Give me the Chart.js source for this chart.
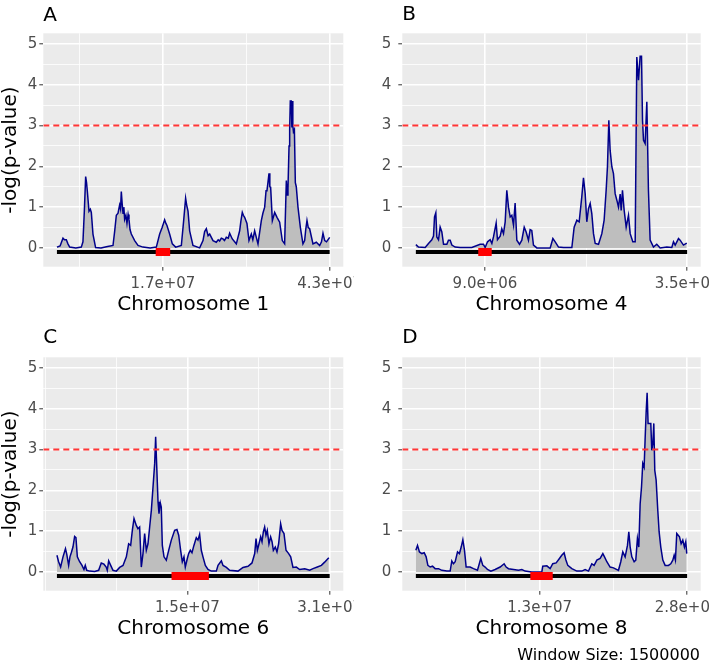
<!DOCTYPE html>
<html>
<head>
<meta charset="utf-8">
<title>Sliding window scan</title>
<script src="https://cdn.jsdelivr.net/npm/chart.js@4.4.1/dist/chart.umd.min.js"></script>
<style>
  body { margin: 0; background: #ffffff; }
  #figure { position: relative; width: 709px; height: 663px; overflow: hidden; font-family: "DejaVu Sans", sans-serif; }
  .cell { position: absolute; }
  .cell canvas { display: block; }
  #caption { position: absolute; right: 9px; top: 647px; font-size: 16px; line-height: 16px; color: #000; white-space: nowrap; }
</style>
</head>
<body>
<div id="figure">
  <div class="cell" style="left:0;top:0"><canvas id="chrA" width="354" height="324"></canvas></div>
  <div class="cell" style="left:354px;top:0"><canvas id="chrB" width="355" height="324"></canvas></div>
  <div class="cell" style="left:0;top:324px"><canvas id="chrC" width="354" height="339"></canvas></div>
  <div class="cell" style="left:354px;top:324px"><canvas id="chrD" width="355" height="339"></canvas></div>
  <div id="caption"></div>
</div>
<script>
// Sliding-window scan, -log(p-value) along four chromosomes
// positions are in Mb, tick labels are written in bp

const chr1Pos = [
    0, 0.5, 0.96, 1.2, 1.49, 1.75, 2.02, 3.0, 3.87, 4.13,
    4.35, 4.56, 4.7, 4.82, 5.09, 5.3, 5.46, 5.72, 6.14, 7.0,
    7.84, 8.9, 9.16, 9.43, 9.7, 9.95, 10.1, 10.22, 10.35, 10.49,
    10.62, 10.75, 10.95, 11.12, 11.3, 11.44, 11.6, 11.81, 12.34, 12.87,
    13.66, 14.8, 15.78, 16.31, 16.7, 17.1, 17.3, 17.47, 17.89, 18.32,
    18.85, 19.75, 20.12, 20.43, 20.6, 20.81, 21.07, 21.6, 22.66, 23.19,
    23.45, 23.72, 24.0, 24.25, 24.78, 25.3, 25.6, 25.83, 26.1, 26.36,
    26.6, 26.89, 27.2, 27.42, 27.84, 28.48, 29.01, 29.2, 29.43, 29.6,
    29.8, 30.17, 30.49, 30.86, 31.1, 31.39, 31.92, 32.45, 32.7, 32.98,
    33.2, 33.35, 33.5, 33.67, 33.8, 33.93, 34.2, 34.57, 34.94, 35.36,
    35.78, 36.15, 36.42, 36.55, 36.68, 36.85, 36.95, 37.05, 37.2, 37.3,
    37.37, 37.45, 37.55, 37.7, 37.85, 38.0, 38.27, 38.64, 39.06, 39.33,
    39.5, 39.7, 39.9, 40.12, 40.65, 41.18, 41.71, 42.0, 42.24, 42.51,
    42.8, 43.3
];
const chr1LogP = [
    0.02, 0.05, 0.24, 0.2, 0.2, 0.1, 0.02, 0.0, 0.02, 0.15,
    0.9, 1.75, 1.6, 1.4, 0.9, 0.95, 0.87, 0.34, 0.01, 0.0,
    0.03, 0.06, 0.4, 0.8, 0.85, 1.05, 0.95, 1.38, 1.1, 0.85,
    1.0, 0.7, 0.8, 0.6, 0.82, 0.7, 0.45, 0.34, 0.18, 0.06,
    0.02, 0.0, 0.02, 0.34, 0.5, 0.69, 0.6, 0.55, 0.34, 0.1,
    0.02, 0.06, 0.67, 1.22, 1.05, 0.9, 0.42, 0.06, 0.0, 0.18,
    0.4, 0.47, 0.3, 0.34, 0.18, 0.14, 0.2, 0.17, 0.24, 0.22,
    0.18, 0.26, 0.24, 0.36, 0.22, 0.1, 0.42, 0.65, 0.87, 0.8,
    0.75, 0.6, 0.18, 0.34, 0.2, 0.42, 0.1, 0.67, 0.85, 1.0,
    1.4, 1.41, 1.6, 1.83, 1.5, 1.49, 0.67, 0.87, 0.75, 0.63,
    0.18, 0.1, 1.65, 1.3, 1.45, 2.5, 2.9, 3.6, 3.6, 2.95,
    3.6, 3.0, 2.85, 2.9, 1.6, 1.5, 1.0, 0.51, 0.1, 0.18,
    0.45, 0.67, 0.5, 0.47, 0.1, 0.14, 0.06, 0.15, 0.36, 0.18,
    0.15, 0.26
];

const chr4Pos = [
    0, 0.34, 1.21, 1.64, 2.07, 2.29, 2.42, 2.59, 2.72, 2.94,
    3.15, 3.37, 3.59, 4.02, 4.23, 4.45, 4.67, 5.10, 5.75, 7.26,
    8.34, 8.78, 8.99, 9.30, 9.64, 9.86, 10.07, 10.42, 10.59, 10.94,
    11.15, 11.37, 11.59, 11.80, 12.02, 12.24, 12.45, 12.67, 12.88, 13.10,
    13.45, 13.75, 14.06, 14.31, 14.61, 14.83, 15.04, 15.26, 15.70, 17.43,
    17.78, 18.08, 18.51, 19.16, 20.24, 20.54, 20.89, 21.19, 21.53, 21.75,
    21.97, 22.18, 22.40, 22.62, 22.83, 23.05, 23.27, 23.70, 24.13, 24.43,
    24.69, 24.86, 25.04, 25.21, 25.43, 25.64, 25.86, 26.08, 26.29, 26.51,
    26.64, 26.81, 27.03, 27.29, 27.59, 27.81, 28.15, 28.46, 28.67, 28.89,
    29.10, 29.28, 29.41, 29.54, 29.75, 29.97, 30.18, 30.40, 30.83, 31.26,
    31.70, 32.56, 33.21, 33.43, 33.65, 34.08, 34.29, 34.72, 35.15
];
const chr4LogP = [
    0.08, 0.02, 0.01, 0.11, 0.2, 0.29, 0.76, 0.86, 0.27, 0.2,
    0.51, 0.39, 0.09, 0.09, 0.19, 0.19, 0.07, 0.02, 0.01, 0.01,
    0.09, 0.09, 0.01, 0.15, 0.2, 0.11, 0.27, 0.61, 0.2, 0.29,
    0.47, 0.35, 0.64, 1.41, 1.0, 0.76, 0.8, 0.56, 1.1, 0.19,
    0.09, 0.19, 0.51, 0.39, 0.19, 0.45, 0.43, 0.07, 0.0, 0.0,
    0.23, 0.15, 0.02, 0.01, 0.01, 0.51, 0.68, 0.64, 1.25, 1.72,
    1.33, 0.64, 0.96, 1.09, 0.84, 0.35, 0.11, 0.09, 0.35, 0.68,
    1.41, 1.99, 3.13, 2.39, 1.99, 1.82, 1.33, 1.17, 1.0, 1.32,
    0.92, 1.41, 0.92, 0.51, 0.8, 0.35, 0.15, 0.15, 4.68, 4.11,
    4.7, 4.7, 3.13, 2.64, 2.56, 3.58, 1.41, 0.19, 0.02, 0.09,
    0.0, 0.02, 0.01, 0.15, 0.07, 0.23, 0.19, 0.07, 0.12
];

const chr6Pos = [
    0, 0.19, 0.42, 0.69, 0.97, 1.12, 1.33, 1.48, 1.63, 1.82,
    2.01, 2.16, 2.32, 2.58, 2.85, 3.07, 3.22, 3.38, 3.72, 4.29,
    4.74, 5.04, 5.34, 5.60, 5.72, 5.88, 6.11, 6.37, 6.75, 7.13,
    7.51, 7.89, 8.15, 8.38, 8.57, 8.76, 9.02, 9.21, 9.40, 9.59,
    9.78, 9.97, 10.16, 10.35, 10.54, 10.73, 10.92, 11.11, 11.22, 11.33,
    11.49, 11.60, 11.75, 11.86, 11.98, 12.17, 12.43, 12.70, 13.00, 13.38,
    13.64, 13.84, 14.06, 14.25, 14.44, 14.59, 14.82, 14.97, 15.16, 15.35,
    15.57, 15.84, 16.03, 16.22, 16.41, 16.60, 16.87, 17.17, 17.55, 18.12,
    18.31, 18.69, 18.88, 19.26, 19.63, 20.58, 21.15, 21.72, 22.17, 22.48,
    22.63, 22.78, 22.97, 23.16, 23.31, 23.46, 23.61, 23.76, 23.91, 24.10,
    24.29, 24.45, 24.60, 24.82, 25.01, 25.20, 25.43, 25.58, 25.81, 26.04,
    26.34, 26.57, 26.83, 27.21, 27.59, 28.16, 28.73, 29.11, 29.60, 30.06,
    30.43, 30.9
];
const chr6LogP = [
    0.41, 0.25, 0.12, 0.37, 0.57, 0.43, 0.16, 0.37, 0.47, 0.61,
    0.87, 0.84, 0.37, 0.25, 0.16, 0.06, 0.16, 0.04, 0.02, 0.01,
    0.04, 0.22, 0.19, 0.12, 0.04, 0.27, 0.16, 0.04, 0.02, 0.11,
    0.16, 0.37, 0.69, 0.65, 1.02, 1.31, 1.14, 1.06, 1.1, 0.12,
    0.45, 0.94, 0.53, 0.69, 1.1, 1.51, 2.08, 2.66, 3.31, 2.66,
    1.72, 1.43, 1.69, 1.59, 0.65, 0.37, 0.29, 0.53, 0.78, 1.02,
    1.04, 0.9, 0.53, 0.25, 0.37, 0.12, 0.33, 0.45, 0.53, 0.47,
    0.65, 0.84, 0.78, 0.92, 0.53, 0.37, 0.16, 0.06, 0.02, 0.02,
    0.16, 0.27, 0.16, 0.11, 0.04, 0.02, 0.11, 0.14, 0.22, 0.45,
    0.82, 0.53, 0.69, 0.86, 0.74, 0.98, 1.1, 0.9, 1.02, 0.69,
    0.86, 0.74, 0.53, 0.61, 0.49, 0.69, 1.18, 1.02, 0.94, 0.53,
    0.45, 0.37, 0.11, 0.12, 0.06, 0.08, 0.04, 0.08, 0.12, 0.16,
    0.24, 0.35
];

const chr8Pos = [
    0, 0.17, 0.37, 0.62, 0.86, 1.06, 1.24, 1.48, 1.72, 1.99,
    2.34, 2.68, 3.20, 3.54, 3.71, 3.88, 4.06, 4.30, 4.50, 4.68,
    4.85, 5.02, 5.19, 5.60, 5.95, 6.36, 6.70, 6.91, 7.15, 7.39,
    7.74, 8.18, 8.70, 9.11, 9.32, 9.56, 10.08, 10.59, 10.94, 11.28,
    11.97, 13.00, 13.10, 13.52, 13.86, 14.13, 14.48, 14.82, 15.06, 15.30,
    15.48, 15.68, 16.10, 16.61, 17.13, 17.47, 17.82, 18.16, 18.40, 18.68,
    19.02, 19.30, 19.47, 19.71, 20.05, 20.40, 20.91, 21.15, 21.36, 21.60,
    21.84, 21.98, 22.12, 22.29, 22.53, 22.70, 22.87, 23.01, 23.15, 23.29,
    23.42, 23.56, 23.66, 23.77, 23.87, 23.97, 24.25, 24.35, 24.46, 24.56,
    24.66, 24.80, 24.97, 25.11, 25.28, 25.49, 25.73, 26.07, 26.31, 26.52,
    26.66, 26.79, 26.93, 27.21, 27.38, 27.55, 27.72, 27.86, 27.96
];
const chr8LogP = [
    0.53, 0.65, 0.49, 0.45, 0.47, 0.37, 0.16, 0.12, 0.14, 0.08,
    0.08, 0.04, 0.02, 0.02, 0.27, 0.2, 0.25, 0.49, 0.45, 0.61,
    0.79, 0.53, 0.12, 0.12, 0.08, 0.04, 0.33, 0.16, 0.12, 0.06,
    0.02, 0.06, 0.12, 0.2, 0.12, 0.08, 0.06, 0.04, 0.06, 0.02,
    0.0, 0.0, 0.14, 0.15, 0.08, 0.2, 0.22, 0.33, 0.41, 0.47,
    0.3, 0.16, 0.08, 0.02, 0.02, 0.06, 0.02, 0.2, 0.16, 0.29,
    0.33, 0.45, 0.37, 0.25, 0.12, 0.1, 0.04, 0.25, 0.49, 0.37,
    0.65, 0.98, 0.61, 0.37, 0.25, 0.29, 0.82, 0.61, 1.67, 2.08,
    2.66, 2.57, 3.23, 3.92, 4.39, 3.64, 3.64, 2.98, 3.15, 3.64,
    2.49, 2.25, 1.51, 0.98, 0.61, 0.29, 0.16, 0.16, 0.2, 0.29,
    0.41, 0.29, 0.94, 0.86, 0.69, 0.78, 0.61, 0.74, 0.45
];

// per-panel values: A, B, C, D
const panelTags = ['A', 'B', 'C', 'D'];
const chromNames = ['Chromosome 1', 'Chromosome 4', 'Chromosome 6', 'Chromosome 8'];
const chromLengths = [43.3, 35.2, 31.0, 28.0];
const centromereStart = [15.64, 8.08, 13.0, 11.8];
const centromereEnd = [18.02, 9.86, 17.28, 14.14];
const xBreaks = [[16.83, 43.3], [8.97, 35.2], [14.83, 31.0], [12.78, 28.0]];
const xBreakLabels = [
    ['1.7e+07', '4.3e+07'],
    ['9.0e+06', '3.5e+07'],
    ['1.5e+07', '3.1e+07'],
    ['1.3e+07', '2.8e+07']
];
const yBreaks = [0, 1, 2, 3, 4, 5];
const yLimits = [-0.46, 5.26];
const threshold = 3;
const windowSize = 1500000;

const FONT = '"DejaVu Sans", sans-serif';

// Layout of each panel inside its canvas (pixels)
const panelLayout = [
    { canvas: 'chrA', yTitle: true,  yWidth: 43.3, yTickPad: 2, padRight: 10.7, padBottom: 0,  tagY: 20.7 },
    { canvas: 'chrB', yTitle: false, yWidth: 48.3, yTickPad: 7, padRight: 8.3,  padBottom: 0,  tagY: 20.2 },
    { canvas: 'chrC', yTitle: true,  yWidth: 43.3, yTickPad: 2, padRight: 10.7, padBottom: 15, tagY: 18.5 },
    { canvas: 'chrD', yTitle: false, yWidth: 48.3, yTickPad: 7, padRight: 8.3,  padBottom: 15, tagY: 18.8 }
];

// Grey panel background like ggplot's theme_grey
const panelBackground = {
    id: 'panelBackground',
    beforeDraw: function(chart) {
        const { ctx, chartArea } = chart;
        ctx.save();
        ctx.fillStyle = '#EBEBEB';
        ctx.fillRect(chartArea.left, chartArea.top, chartArea.width, chartArea.height);
        ctx.restore();
    }
};

// Panel letter in the top left corner
const panelTag = {
    id: 'panelTag',
    afterDraw: function(chart, args, opts) {
        const ctx = chart.ctx;
        ctx.save();
        ctx.font = '20px ' + FONT;
        ctx.fillStyle = '#000000';
        ctx.textAlign = 'left';
        ctx.textBaseline = 'alphabetic';
        ctx.fillText(opts.text, chart.chartArea.left, opts.y);
        ctx.restore();
    }
};

// ggplot style minor breaks: midpoints of the (extended) major breaks
function minorBreaks(b, lo, hi) {
    const step = b[1] - b[0];
    const ext = b.slice();
    if (lo < ext[0]) ext.unshift(ext[0] - step);
    if (hi > ext[ext.length - 1]) ext.push(ext[ext.length - 1] + step);
    const out = [];
    for (let k = 0; k < ext.length - 1; k++) {
        out.push(ext[k], (ext[k] + ext[k + 1]) / 2);
    }
    out.push(ext[ext.length - 1]);
    return out.filter(v => v >= lo && v <= hi && !b.includes(v));
}

function buildPanel(i, pos, logp) {
    const lay = panelLayout[i];
    const len = chromLengths[i];
    const xMin = -0.05 * len;
    const xMax = 1.05 * len;

    const xMajor = xBreaks[i];
    const xTicks = xMajor.concat(minorBreaks(xMajor, xMin, xMax)).sort((a, b) => a - b);
    const yTicks = yBreaks.concat(minorBreaks(yBreaks, yLimits[0], yLimits[1])).sort((a, b) => a - b);

    const gridWidth = (majors) => (ctx) => (ctx.tick && majors.includes(ctx.tick.value)) ? 1.6 : 0.8;
    const tickColor = (majors) => (ctx) => (ctx.tick && majors.includes(ctx.tick.value)) ? '#333333' : 'rgba(0,0,0,0)';

    const config = {
        type: 'line',
        data: {
            datasets: [
                {   // significance threshold
                    data: [{ x: xMin, y: threshold }, { x: xMax, y: threshold }],
                    borderColor: '#FF3535',
                    borderWidth: 1.8,
                    borderDash: [6, 4],
                    fill: false,
                    order: 0
                },
                {   // centromere, upper edge
                    data: [{ x: centromereStart[i], y: 0 }, { x: centromereEnd[i], y: 0 }],
                    borderColor: 'rgba(0,0,0,0)',
                    borderWidth: 0,
                    backgroundColor: '#FF0000',
                    fill: '+1',
                    order: 1
                },
                {   // centromere, lower edge
                    data: [{ x: centromereStart[i], y: -0.2 }, { x: centromereEnd[i], y: -0.2 }],
                    borderColor: 'rgba(0,0,0,0)',
                    borderWidth: 0,
                    fill: false,
                    order: 1
                },
                {   // chromosome
                    data: [{ x: 0, y: -0.1 }, { x: len, y: -0.1 }],
                    borderColor: '#000000',
                    borderWidth: 4,
                    borderCapStyle: 'butt',
                    fill: false,
                    order: 2
                },
                {   // -log(p) along the chromosome
                    data: pos.map((p, k) => ({ x: p, y: logp[k] })),
                    borderColor: '#00008B',
                    borderWidth: 1.5,
                    backgroundColor: '#BEBEBE',
                    fill: 'origin',
                    order: 3
                }
            ]
        },
        options: {
            responsive: false,
            animation: false,
            devicePixelRatio: 1,
            events: [],
            layout: { padding: { left: 0, top: 33.3, right: lay.padRight, bottom: lay.padBottom } },
            elements: {
                point: { radius: 0, hoverRadius: 0 },
                line: { tension: 0 }
            },
            plugins: {
                legend: { display: false },
                tooltip: { enabled: false },
                panelTag: { text: panelTags[i], y: lay.tagY }
            },
            scales: {
                x: {
                    type: 'linear',
                    min: xMin,
                    max: xMax,
                    afterBuildTicks: function(axis) {
                        axis.ticks = xTicks.map(v => ({ value: v }));
                    },
                    afterFit: function(axis) {
                        axis.height = 57.3;
                        axis.paddingLeft = 0;
                        axis.paddingRight = 0;
                    },
                    border: { display: false },
                    grid: {
                        color: '#FFFFFF',
                        lineWidth: gridWidth(xMajor),
                        drawTicks: true,
                        tickLength: 4,
                        tickWidth: 1,
                        tickColor: tickColor(xMajor)
                    },
                    ticks: {
                        autoSkip: false,
                        maxRotation: 0,
                        padding: 4.5,
                        color: '#4D4D4D',
                        font: { family: FONT, size: 15 },
                        callback: function(value) {
                            const k = xMajor.indexOf(value);
                            return k >= 0 ? xBreakLabels[i][k] : '';
                        }
                    },
                    title: {
                        display: true,
                        text: chromNames[i],
                        color: '#000000',
                        font: { family: FONT, size: 20, lineHeight: 1.2 },
                        padding: { top: 0, bottom: 7 }
                    }
                },
                y: {
                    type: 'linear',
                    min: yLimits[0],
                    max: yLimits[1],
                    afterBuildTicks: function(axis) {
                        axis.ticks = yTicks.map(v => ({ value: v }));
                    },
                    afterFit: function(axis) {
                        axis.width = lay.yWidth;
                        axis.paddingTop = 0;
                        axis.paddingBottom = 0;
                    },
                    border: { display: false },
                    grid: {
                        color: '#FFFFFF',
                        lineWidth: gridWidth(yBreaks),
                        drawTicks: true,
                        tickLength: 4,
                        tickWidth: 1,
                        tickColor: tickColor(yBreaks)
                    },
                    ticks: {
                        autoSkip: false,
                        padding: lay.yTickPad,
                        color: '#4D4D4D',
                        font: { family: FONT, size: 15 },
                        callback: function(value) {
                            return yBreaks.includes(value) ? String(value) : '';
                        }
                    },
                    title: {
                        display: lay.yTitle,
                        text: '-log(p-value)',
                        color: '#000000',
                        font: { family: FONT, size: 20, lineHeight: 1.1 },
                        padding: { top: 0, bottom: 0 }
                    }
                }
            }
        },
        plugins: [panelBackground, panelTag]
    };

    return new Chart(document.getElementById(lay.canvas), config);
}

Chart.defaults.font.family = FONT;

buildPanel(0, chr1Pos, chr1LogP);
buildPanel(1, chr4Pos, chr4LogP);
buildPanel(2, chr6Pos, chr6LogP);
buildPanel(3, chr8Pos, chr8LogP);

document.getElementById('caption').textContent = 'Window Size: ' + windowSize;
</script>
</body>
</html>
